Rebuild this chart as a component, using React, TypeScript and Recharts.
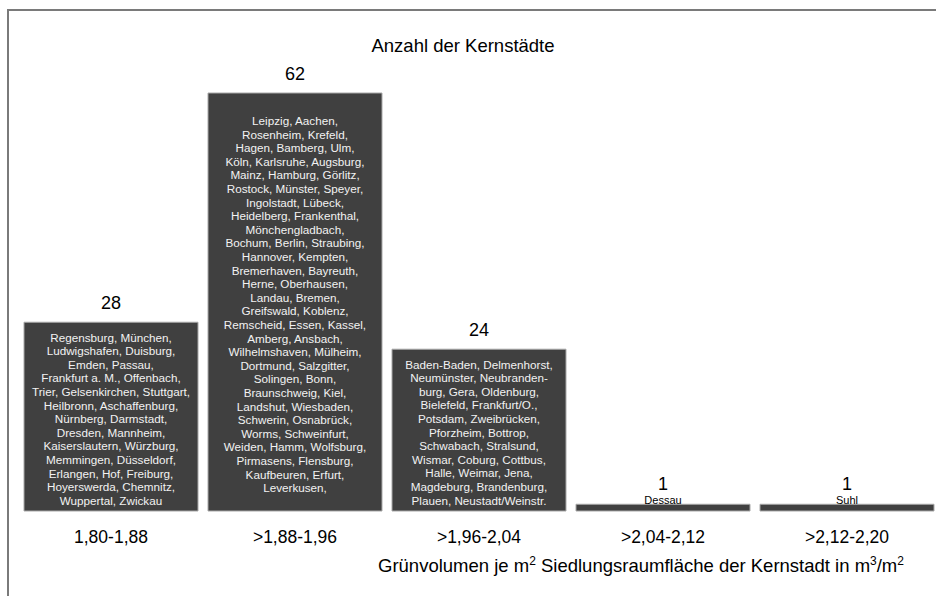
import { BarChart, Bar, XAxis, YAxis, LabelList } from 'recharts';

const categories = ['1,80-1,88', '>1,88-1,96', '>1,96-2,04', '>2,04-2,12', '>2,12-2,20'];
const counts = [28, 62, 24, 1, 1];

// line breaks as printed in the original
const cities1 = [
  'Regensburg, München,', 'Ludwigshafen, Duisburg,', 'Emden, Passau,', 'Frankfurt a. M., Offenbach,',
  'Trier, Gelsenkirchen, Stuttgart,', 'Heilbronn, Aschaffenburg,', 'Nürnberg, Darmstadt,', 'Dresden, Mannheim,',
  'Kaiserslautern, Würzburg,', 'Memmingen, Düsseldorf,', 'Erlangen, Hof, Freiburg,', 'Hoyerswerda, Chemnitz,',
  'Wuppertal, Zwickau',
];
const cities2 = [
  'Leipzig, Aachen,', 'Rosenheim, Krefeld,', 'Hagen, Bamberg, Ulm,', 'Köln, Karlsruhe, Augsburg,',
  'Mainz, Hamburg, Görlitz,', 'Rostock, Münster, Speyer,', 'Ingolstadt, Lübeck,', 'Heidelberg, Frankenthal,',
  'Mönchengladbach,', 'Bochum, Berlin, Straubing,', 'Hannover, Kempten,', 'Bremerhaven, Bayreuth,',
  'Herne, Oberhausen,', 'Landau, Bremen,', 'Greifswald, Koblenz,', 'Remscheid, Essen, Kassel,',
  'Amberg, Ansbach,', 'Wilhelmshaven, Mülheim,', 'Dortmund, Salzgitter,', 'Solingen, Bonn,',
  'Braunschweig, Kiel,', 'Landshut, Wiesbaden,', 'Schwerin, Osnabrück,', 'Worms, Schweinfurt,',
  'Weiden, Hamm, Wolfsburg,', 'Pirmasens, Flensburg,', 'Kaufbeuren, Erfurt,', 'Leverkusen,',
];
const cities3 = [
  'Baden-Baden, Delmenhorst,', 'Neumünster, Neubranden-', 'burg, Gera, Oldenburg,', 'Bielefeld, Frankfurt/O.,',
  'Potsdam, Zweibrücken,', 'Pforzheim, Bottrop,', 'Schwabach, Stralsund,', 'Wismar, Coburg, Cottbus,',
  'Halle, Weimar, Jena,', 'Magdeburg, Brandenburg,', 'Plauen, Neustadt/Weinstr.',
];
const cities4 = ['Dessau'];
const cities5 = ['Suhl'];
const cityLines = [cities1, cities2, cities3, cities4, cities5];

const data = categories.map((c, i) => ({ range: c, count: counts[i] }));

const FONT = '"Liberation Sans", Arial, sans-serif';

function BarLabel(props: any) {
  const { x, y, width, height, value, index } = props;
  const cx = x + width / 2;
  const lines = cityLines[index] || [];
  const lh = 13.6;
  const big = height > 40;
  const startY = y + height / 2 + 2 - ((lines.length - 1) * lh) / 2;
  return (
    <g>
      <text x={cx} y={big ? y - 19 : y - 20} textAnchor="middle" dominantBaseline="central" fontSize={18} fill="#000" fontFamily={FONT}>
        {value}
      </text>
      {big
        ? lines.map((l, i) => (
            <text key={i} x={cx} y={startY + i * lh} textAnchor="middle" dominantBaseline="central" fontSize={11.7} fill="#f2f2f2" fontFamily={FONT}>
              {l}
            </text>
          ))
        : lines.map((l, i) => (
            <text key={i} x={cx} y={y - 4} textAnchor="middle" dominantBaseline="central" fontSize={11} fill="#000" fontFamily={FONT}>
              {l}
            </text>
          ))}
    </g>
  );
}

function CatTick(props: any) {
  const { x, y, payload } = props;
  return (
    <text x={x} y={y + 26} textAnchor="middle" dominantBaseline="central" fontSize={17.5} fill="#000" fontFamily={FONT}>
      {payload.value}
    </text>
  );
}

export default function App() {
  return (
    <div style={{ position: 'fixed', left: 0, top: 0, width: 936, height: 596, overflow: 'hidden', background: '#fff', fontFamily: FONT }}>
      <div style={{ position: 'absolute', left: 7, top: 9, width: 1000, height: 1000, border: '2px solid #7a7a7a' }} />
      <div style={{ position: 'absolute', left: 0, width: 926, top: 35, textAlign: 'center', fontSize: 18.5, lineHeight: '22px' }}>
        Anzahl der Kernstädte
      </div>
      <BarChart width={950} height={596} data={data} margin={{ top: 93, right: 11, bottom: 0, left: 19 }} barCategoryGap={5}>
        <XAxis dataKey="range" axisLine={false} tickLine={false} tickSize={0} tickMargin={0} height={85} interval={0} tick={<CatTick />} />
        <YAxis hide domain={[0, 62]} />
        <Bar dataKey="count" fill="#404040" stroke="#a8a8a8" strokeWidth={1} isAnimationActive={false}>
          <LabelList dataKey="count" content={<BarLabel />} />
        </Bar>
      </BarChart>
      <div style={{ position: 'absolute', left: 378, top: 554, fontSize: 18.5, lineHeight: '24px', whiteSpace: 'nowrap' }}>
        Grünvolumen je m<sup style={{ fontSize: 12, lineHeight: 0 }}>2</sup> Siedlungsraumfläche der Kernstadt in m<sup style={{ fontSize: 12, lineHeight: 0 }}>3</sup>/m<sup style={{ fontSize: 12, lineHeight: 0 }}>2</sup>
      </div>
    </div>
  );
}
